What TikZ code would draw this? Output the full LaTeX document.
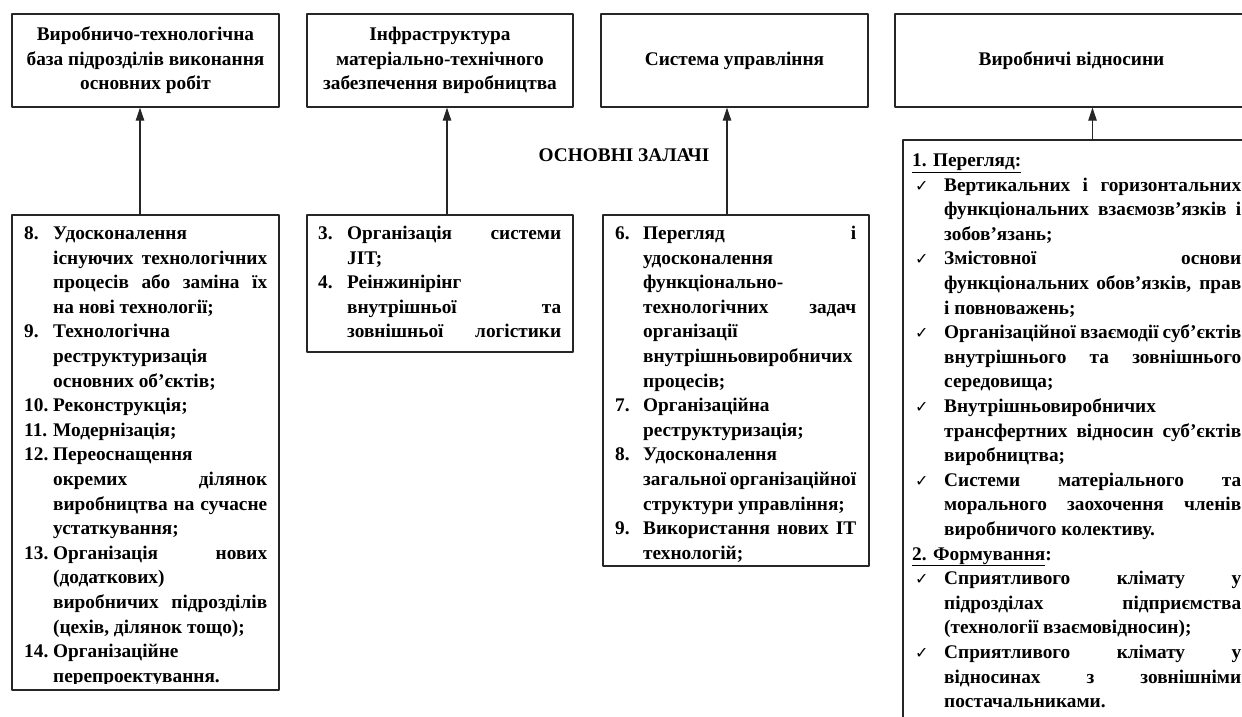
\documentclass[tikz,border=0pt]{standalone}
\usepackage{fontspec}
\setmainfont{Liberation Serif}
\newfontfamily\checkfont{DejaVu Sans}
\usepackage{array}
\usetikzlibrary{arrows.meta}

\newlength{\jw}
\newcommand{\jl}[1]{\makebox[\jw][s]{#1}}
\newcommand{\ck}{{\checkfont\fontsize{16}{16}\selectfont ✓}}

\begin{document}
\begin{tikzpicture}[x=1pt, y=-1pt, line cap=round, line join=round,
  >={Triangle[length=13pt,width=8.5pt]},
  font=\fontsize{19.3}{24.6}\selectfont\bfseries,
  block/.style={draw=black!85, line width=1.3pt, rectangle, inner sep=0pt},
  head/.style={block, align=center},
  items/.style={anchor=north west, inner sep=0pt},
  link/.style={->, line width=1.1pt, draw=black!85, fill=black}]

  \useasboundingbox (0,0) rectangle (1242,716);

  % ── Top blocks ───────────────────────────────────────────────────────────────

  \node[head, minimum width=267pt, minimum height=93pt] (topA) at (145.5,60.5)
    {Виробничо-технологічна\\база підрозділів виконання\\основних робіт};
  \node[head, minimum width=266pt, minimum height=93pt] (topB) at (440,60.5)
    {Інфраструктура\\матеріально-технічного\\забезпечення виробництва};
  \node[head, minimum width=267pt, minimum height=93pt] (topC) at (734.5,60.5)
    {Система управління};
  \node[head, minimum width=353pt, minimum height=93pt] (topD) at (1071.5,60.5)
    {Виробничі відносини};

  \node (tasks) at (624,155) {ОСНОВНІ ЗАЛАЧІ};

  % ── Task blocks ──────────────────────────────────────────────────────────────

  \node[block, minimum width=267pt, minimum height=475pt] (botA) at (145.5,452.5) {};
  \node[block, minimum width=266pt, minimum height=137pt] (botB) at (440,283.5) {};
  \node[block, minimum width=266pt, minimum height=351pt] (botC) at (736,390.5) {};
  \node[block, minimum width=347pt, minimum height=600pt] (botD) at (1076.5,440) {};

  % Left list (last line cut by the frame)
  \begin{scope}
    \clip (0,200) rectangle (300,683);
    \node[items] (listA) at (24,222) {\setlength{\jw}{214pt}%
      \begin{tabular}{@{}w{l}{29pt}@{}l@{}}
        8.  & Удосконалення\\
            & \jl{існуючих технологічних}\\
            & \jl{процесів або заміна їх}\\
            & на нові технології;\\
        9.  & Технологічна\\
            & реструктуризація\\
            & основних об’єктів;\\
        10. & Реконструкція;\\
        11. & Модернізація;\\
        12. & Переоснащення\\
            & \jl{окремих ділянок}\\
            & \jl{виробництва на сучасне}\\
            & устаткування;\\
        13. & \jl{Організація нових}\\
            & (додаткових)\\
            & \jl{виробничих підрозділів}\\
            & (цехів, ділянок тощо);\\
        14. & Організаційне\\
            & перепроектування.
      \end{tabular}};
  \end{scope}

  \node[items] (listB) at (318,222) {\setlength{\jw}{214pt}%
    \begin{tabular}{@{}w{l}{29pt}@{}l@{}}
      3. & \jl{Організація системи}\\
         & JIT;\\
      4. & Реінжинірінг\\
         & \jl{внутрішньої та}\\
         & \jl{зовнішньої логістики}
    \end{tabular}};

  \node[items] (listC) at (615,222) {\setlength{\jw}{213pt}%
    \begin{tabular}{@{}w{l}{28pt}@{}l@{}}
      6. & \jl{Перегляд і}\\
         & удосконалення\\
         & функціонально-\\
         & \jl{технологічних задач}\\
         & організації\\
         & внутрішньовиробничих\\
         & процесів;\\
      7. & Організаційна\\
         & реструктуризація;\\
      8. & Удосконалення\\
         & \jl{загальної організаційної}\\
         & структури управління;\\
      9. & \jl{Використання нових ІТ}\\
         & технологій;
    \end{tabular}};

  \node[items] (listD) at (912,149) {\setlength{\jw}{297pt}%
    \begin{tabular}{@{}w{l}{32pt}@{}l@{}}
      \multicolumn{2}{@{}l}{\underline{1. Перегляд:}}\\
      \hspace{3pt}\ck & \jl{Вертикальних і горизонтальних}\\
                      & \jl{функціональних взаємозв’язків і}\\
                      & зобов’язань;\\
      \hspace{3pt}\ck & \jl{Змістовної основи}\\
                      & \jl{функціональних обов’язків, прав}\\
                      & і повноважень;\\
      \hspace{3pt}\ck & \jl{Організаційної взаємодії суб’єктів}\\
                      & \jl{внутрішнього та зовнішнього}\\
                      & середовища;\\
      \hspace{3pt}\ck & Внутрішньовиробничих\\
                      & \jl{трансфертних відносин суб’єктів}\\
                      & виробництва;\\
      \hspace{3pt}\ck & \jl{Системи матеріального та}\\
                      & \jl{морального заохочення членів}\\
                      & виробничого колективу.\\
      \multicolumn{2}{@{}l}{\underline{2. Формування}:}\\
      \hspace{3pt}\ck & \jl{Сприятливого клімату у}\\
                      & \jl{підрозділах підприємства}\\
                      & (технології взаємовідносин);\\
      \hspace{3pt}\ck & \jl{Сприятливого клімату у}\\
                      & \jl{відносинах з зовнішніми}\\
                      & постачальниками.
    \end{tabular}};

  % ── Arrows ───────────────────────────────────────────────────────────────────

  \draw[link] ([xshift=-5.5pt]botA.north) -- ([xshift=-5.5pt]botA.north |- topA.south);
  \draw[link] ([xshift=7pt]botB.north) -- ([xshift=7pt]botB.north |- topB.south);
  \draw[link] ([xshift=-9pt]botC.north) -- ([xshift=-9pt]botC.north |- topC.south);
  \draw[link] ([xshift=16pt]botD.north) -- ([xshift=16pt]botD.north |- topD.south);

\end{tikzpicture}
\end{document}
